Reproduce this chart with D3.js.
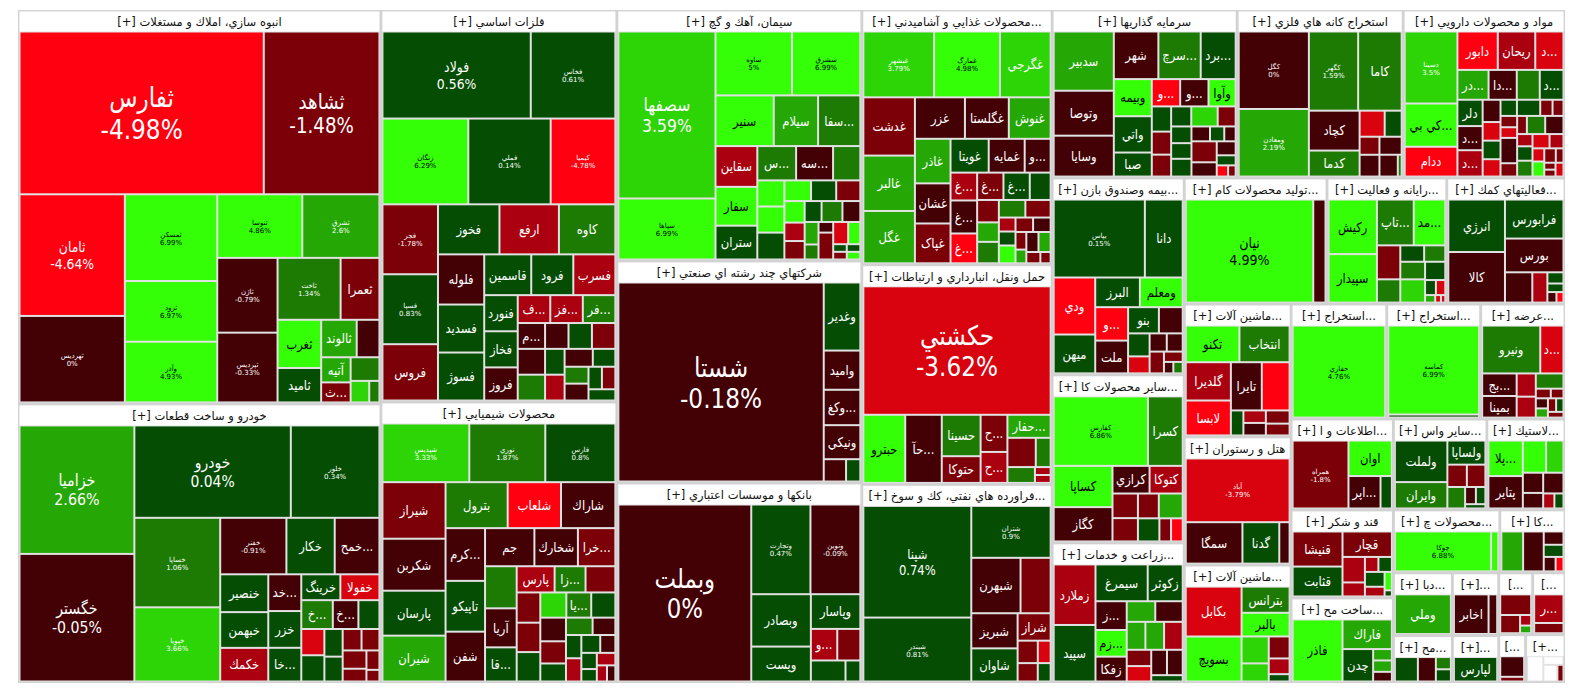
<!DOCTYPE html>
<html><head><meta charset="utf-8">
<script src="https://cdn.jsdelivr.net/npm/d3@7"></script>
<style>
html,body{margin:0;padding:0;background:#fff;}
svg text{font-family:"DejaVu Sans",sans-serif;}
</style></head><body>
<svg id="chart" width="1584" height="698"></svg>
<script>
// ---------- DATA (symbol, % change, weight) ----------
const sAnbooh = [["ثفارس",-4.98,397],["ثشاهد",-1.48,188],["ثامان",-4.64,128],["ثهرديس",0,91],["ثمسكن",6.99,80],["ثرود",6.97,56],["وآذر",4.93,56],["ثنوسا",4.86,54],["ثشرق",2.60,49],["ثاژن",-0.79,45],["ثپرديس",-0.33,42],["ثاخت",1.34,39],["ثعمرا",-1.52,24],["ثغرب",4.6,21],["ثاميد",0.45,15],["ثالوند",2.4,13.3],["ثملت",-0.6,8.5],["آتيه",2.4,7.4],["ثقزوي",-1.5,5.9],["ثتران",1.5,6.8],["ثجنوب",3.5,4],["ثنظام",1.5,2.2]];
const sKhodro = [["خزاميا",2.66,146],["خگستر",-0.05,145],["خودرو",0.04,143],["خلور",0.34,81],["خساپا",1.06,76],["خپويا",3.66,63],["خفنر",-0.91,37],["خكار",0.6,27],["خمحركه",-0.4,25],["خنصير",0.5,18],["خبهمن",0.3,17],["خكمك",-2.5,16],["خديزل",-0.5,12],["خزر",0.3,12],["خاذين",0.4,11],["خرينگ",0.5,10],["خفولا",-3.5,10],["خشرق",1.5,9],["خمهر",-0.5,7.3],["ناما",0.5,6],["خاور",-3.5,6],["خوساز",0.5,6],["",0.5,5],["",0.5,4.5],["",-1.5,4],["",-1.5,3.8],["",-1.5,4.3],["",-1.5,3],["",-1.5,2.5],["",-1.5,1.5]];
const sFelezat = [["فولاد",0.56,128],["فخاس",0.61,73],["زنگان",6.29,73],["فملي",0.14,70],["كيميا",-4.78,55],["فجر",-1.78,38.5],["فسپا",0.83,38.5],["فروس",-1.5,31],["فخوز",0.5,30.5],["ارفع",-2.5,29.5],["كاوه",1.5,28],["فلوله",-0.5,23],["فسديد",0.5,22],["فسوژ",0.5,22],["قاسمين",0.5,19],["فرود",0.5,17],["فسرب",-2.5,17],["فنورد",0.5,12],["فخاز",0.5,12],["فروز",-0.5,11],["فگستر",-2.5,9],["فزرين",-2.5,9],["فرآور",1.5,9],["مرقام",-0.5,7],["كنرژي",-0.5,7],["",1.5,7],["",-0.5,6],["",0.5,6],["",-1.5,6],["",0.5,5],["",-2.5,5],["",-0.5,5],["",0.5,4],["",1.5,4],["",-0.5,4],["",0.5,3],["",-1.5,3],["",0.5,3]];
const sShimi = [["شپديس",3.33,52.8],["نوري",1.87,46.2],["فارس",0.80,42.6],["شيراز",-1.5,37],["شكربن",-0.5,34],["پارسان",0.5,29.4],["شيران",2.5,30],["بترول",1.5,29.6],["شلعاب",-4.5,25.4],["شاراك",-0.5,25.9],["كرماشا",-0.5,21.6],["تاپيكو",0.5,20.8],["شفن",-0.5,20.4],["جم",-0.5,19.5],["شخارك",-0.5,17.2],["خراسان",-1.5,14.8],["شصدف",1.5,13.8],["آريا",-0.5,12.8],["قاران",0.5,11.2],["پارس",-2.5,10.3],["زاگرس",1.5,8.4],["",-1.5,8.1],["",-1.5,7.4],["",-1.5,7.2],["",0.5,7.2],["",3.5,6.8],["ياسا",1.5,6.5],["",0.5,6.3],["",-0.5,6.3],["",-1.5,5.9],["",0.5,4.8],["",1.5,4.8],["",-0.5,4.1],["",0.5,3.7],["",-2.5,3.7],["",0.5,3.5],["",-0.5,2.8],["",0.5,2.6],["",0.5,2],["",-2.5,2.4],["",-2.5,1.7],["",-0.5,1.4]];
const sSiman = [["سصفها",3.59,156],["سپاها",6.99,57],["ساوه",5,47],["سشرق",6.99,42],["سنير",5,28.4],["سيلام",2.5,21.6],["سفارس",1.5,20.6],["سقاين",-2.5,16.4],["سفار",5,15.6],["ستران",0.5,13.6],["سشمال",1.5,12.8],["سهرمز",-0.5,12.2],["سغرب",1.5,9],["",5,6.8],["",5,6.8],["سارود",0.5,7],["",5,5.3],["",0.5,5],["",-1.5,4.8],["",5,4.2],["",-2.5,3.6],["",-1.5,3.6],["",0.5,3.4],["",1.5,4.2],["",-0.5,3.6],["",2.5,3],["",1.5,2],["",-0.5,1.5],["",-1.5,3.8],["",-3.5,3.2],["",5,2.6],["",0.5,1],["",-1.5,1],["",0.5,1],["",5,1]];
const sChandReshte = [["شستا",-0.18,410],["وغدير",0.5,25],["واميد",-0.5,14.4],["وكغدير",-0.5,13],["ونيكي",-0.5,12.5],["",-0.5,5],["",0.5,3.2]];
const sBank = [["وبملت",0,226],["وتجارت",0.47,51],["ونوين",-0.09,43],["وبصادر",0.5,30],["وپست",0.5,20],["وپاسار",0.5,16.5],["وسينا",-2.5,8],["وكار",-1.5,7],["",0.5,7],["",0.5,3]];
const sGhazaei = [["غبشهر",3.79,44],["غمارگ",4.98,41],["غگرجي",3.5,31.5],["غدشت",-1.5,28.4],["غالبر",2.5,27],["غگل",2.5,25.5],["غزر",-0.5,19.6],["غگلستا",-0.5,17.2],["غنوش",2.5,16.4],["غاذر",2.5,15],["غشان",-0.5,13.5],["غپاک",-1.5,13.4],["غويتا",0.5,12.2],["غمايه",-0.5,11.5],["وبشهر",-0.5,8.3],["غشصفا",-2.5,7],["غبهنوش",-0.5,8.3],["غپينو",-4.5,7.5],["غكورش",-1.5,6.8],["غفارس",0.5,6.8],["",0.5,5.4],["",-1.5,4.6],["",2.5,4],["",1.5,4.4],["",1.5,4.4],["",-1.5,4.2],["",-2.5,2.2],["",0.5,2.2],["",5,2.8],["",-1.5,2.4],["",-0.5,2.4],["",-1.5,1.8],["",2.5,1.4],["",-0.5,2.3],["",2.5,2.3],["",-1.5,1.5],["",-1.5,1.1]];
const sHaml = [["حكشتي",-3.62,232],["حبترو",5,27.5],["حآفرين",-0.5,24],["حسينا",1.5,15.5],["حتوكا",-1.5,10],["حپارسا",-1.5,9.6],["حريل",-2.5,8],["حفارس",2.5,9.6],["",-1.5,8],["",1.5,4.2],["",1.5,4.2],["",-2.5,1.2],["",-2.5,1.2]];
const sNafti = [["شپنا",0.74,117],["شبندر",0.81,67],["شتران",0.9,40],["شبهرن",-0.5,26.5],["",-1.5,16.2],["شبريز",-0.5,15.8],["شاوان",0.5,14.9],["شراز",-1.5,8.8],["",-1.5,4.4],["",-3.5,2.8],["",-1.5,3.6],["",0.5,2.3]];
const sSarmaye = [["سدبير",2.5,33.6],["وتوصا",-0.5,25.5],["وسايا",-0.5,23.2],["شهر",-0.5,20],["سرچشمه",1.5,19],["بردسير",0.5,15.7],["وبيمه",5,13.3],["واتي",0.5,13],["صبا",0.5,8.6],["وصنعت",-4.5,7.3],["وسپه",-0.5,7.3],["وآوا",5,7],["",0.5,4.6],["",-1.5,4.2],["",-1.5,4],["",0.5,3.8],["",3.5,5],["",-1.5,3.4],["",0.5,3.2],["",0.5,3],["",0.5,3.4],["",-0.5,2.6],["",0.5,2],["",-0.5,1.6],["",-1.5,5],["",-0.5,3.4],["",-0.5,2.5],["",0.5,1.8],["",-4.5,1.2],["",-1.5,0.8]];
const sKaneh = [["كگل",0,51.6],["ومعادن",2.19,45],["كگهر",1.59,37],["كاما",1.5,32.7],["كچاد",-0.5,19.2],["كدما",1.5,12.5],["",-3.5,6.2],["",0.5,4.2],["",-1.5,3.4],["",-0.5,4.1],["",-0.5,3.8],["",-0.5,3.8],["",1.5,0.8]];
const sDarou = [["دسينا",3.5,34.3],["كي بي سي",5,20.6],["ددام",-4.5,14.2],["دابور",-4.5,14],["ريحان",-2.5,13],["دفارا",-3.5,9.8],["درازك",2.5,8.4],["داسوه",-0.5,7.6],["دتماد",1.5,6.2],["دكوثر",0.5,6.4],["دلر",0.5,6],["دشيمي",-0.5,5.5],["دزهراوي",-2.5,6],["",-0.5,3.6],["",-3.5,3],["",0.5,3],["",-3.5,2.8],["",0.5,2.4],["",0.5,3.4],["",-1.5,1.8],["",-1.5,1.6],["",-1.5,1.7],["",-3.5,1.6],["",-0.5,3.8],["",-1.5,2],["",-1.5,1.6],["",1.5,3],["",-0.5,3],["",-2.5,1.7],["",0.5,2],["",1.5,2.2],["",-3.5,2.2],["",-2.5,1.8],["",-3.5,1.4],["",5,1.6],["",-1.5,1.5],["",-1.5,1],["",-1.5,0.7],["",-1.5,0.7],["",-3.5,1]];
const sBimeh = [["بپاس",0.15,66],["دانا",0.5,27.4],["ودي",-4.5,22],["ميهن",0.5,15],["البرز",0.5,12.3],["ومعلم",5,11.8],["وكوثر",-4.5,10.2],["ملت",-0.5,10],["بنو",0.5,7.5],["",-0.5,5.8],["",0.5,4.6],["",-3.5,3.4],["",-0.5,2.9],["",-0.5,2.7],["",-1.5,2.9],["",-1.5,1.8],["",-0.5,1],["",1.5,1]];
const sKani = [["كفارس",6.86,60.7],["كسرا",1.5,22.4],["كساپا",5,22.5],["كگاز",-0.5,18.7],["كرازي",-0.5,9.5],["كتوكا",-2.5,8.5],["",-1.5,5.8],["",-1.5,5.5],["",-1.5,4.8],["",2.5,5.5],["",0.5,4.6],["",-1.5,2.5],["",-4.5,2.5]];
const sZeraat = [["زملارد",-2.5,22.8],["سپيد",0.5,21.3],["سيمرغ",0.5,17.3],["زكوثر",0.5,11.6],["زشريف",-0.5,8.1],["زماهان",5,7.5],["زفكا",-0.5,7],["",2.5,5.3],["",-0.5,5.1],["",2.5,4.7],["",2.5,4.7],["",-2.5,4.7],["",-1.5,3.6],["",-3.5,3.4],["",-0.5,3.6],["",-0.5,3.6],["",0.5,1.8]];
const sComputer = [["نيان",4.99,130],["",-0.5,12.5]];
const sRayaneh = [["ركيش",5,24.3],["سپيدار",5,21.6],["تاپكيش",1.5,15.5],["مداران",5,13.3],["",-1.5,7.3],["",1.5,5],["",0.5,3.6],["",1.5,3.2],["",1.5,4],["",3.5,5.3],["",0.5,3.4],["",0.5,1.5],["",-3.5,1.3],["",2.5,0.7],["",-3.5,0.4],["",-3.5,0.3]];
const sKomaki = [["انرژي",0.5,28],["كالا",-0.5,27],["فرابورس",0.5,21.5],["بورس",-0.5,18.6],["",-0.5,7.8],["",-2.5,4.3],["",0.5,1.7],["",0.5,1.3],["",-0.5,0.9],["",-4.5,0.7]];
const sMashin = [["تكنو",5,18.2],["انتخاب",1.5,17],["گلديرا",-2.5,16],["لابسا",-4.5,14.6],["تايرا",-0.5,13.8],["",-4.5,12.4],["",0.5,2.9],["",-2.5,2.6],["",-0.5,2.6],["",-1.5,2.9],["",-1.5,2.6]];
const sHotel = [["آباد",-3.79,62],["سمگا",-0.5,22],["گدنا",0.5,14.3],["",-0.5,4]];
const sBarghi = [["بكابل",-3.5,25.5],["بسويچ",5,23],["بترانس",1.5,11.5],["بالبر",5,10.4],["",3.5,6.7],["",3.5,4.5],["",-1.5,4.2],["",-2.5,3],["",0.5,1.4]];
const sNaft = [["حفاري",4.76,84]];
const sMaaden = [["كماسه",6.99,78],["",0.5,2.7]];
const sBargh = [["ونيرو",1.5,25],["دماوند",-3.5,10],["بجهرم",-0.5,7],["بمپنا",-0.5,6.7],["",-2.5,4],["",-2.5,3.6],["",1.5,3.8],["",-1.5,1.3],["",-1.5,1.1],["",-0.5,1.1],["",2.5,1],["",-1.5,1],["",0.5,0.9],["",-1.5,0.8]];
const sEttelaat = [["همراه",-1.8,35],["اوان",5,14.2],["اپرداز",-0.5,9.6],["",0.5,3.4]];
const sGhand = [["قنيشا",-1.5,15.6],["قثابت",0.5,13.3],["قچار",-1.5,11.2],["",-2.5,5.1],["",-2.5,2.8],["",-2.5,1.8],["",0.5,1.8],["",0.5,2.6],["",-2.5,1.7],["",5,1.2],["",0.5,0.4]];
const sFelezi = [["فاذر",4.98,29],["فاراك",2.5,13.7],["چدن",0.5,9.3],["",2.5,2],["",2.5,2],["",-0.5,1.7]];
const sVaseteh = [["ولملت",0.5,20],["وايران",1.5,12.7],["ولساپا",0.5,8.4],["",-1.5,4],["",-1.5,3.8],["",1.5,3.5],["",-0.5,1.7],["",0.5,1.5],["",0.5,0.8]];
const sLastik = [["پلاسك",5,11.6],["پتاير",-0.5,10.6],["",5,7.1],["",3.5,5.3],["",-0.5,3.9],["",-0.5,3],["",-0.5,4],["",-2.5,1.6],["",0.5,1.3]];
const sChoobi = [["چوكا",6.88,35.7],["",5,2.7]];
const sKashi = [["",2.5,7.6],["",-0.5,7.2],["",-0.5,2.3],["",0.5,2.1],["",-0.5,1.5],["",-4.5,1]];
const sDabbaghi = [["وملي",2.5,21]];
const sKaghazi = [["",0.5,5.5],["",-0.5,4.3],["",1.5,1.8],["",0.5,1.8]];
const sMokhaberat = [["اخابر",-0.5,12.8],["",-0.5,3.2]];
const sKhanegi = [["لپارس",0.5,10.5]];
const sNassaji = [["",-1.5,6],["",-1.5,3.4],["",-2.5,1.1],["",2.5,0.8]];
const sFanni = [["رمپنا",-2.5,8.1],["",-1.5,2.9]];
const sAbi = [["حسير",-0.5,4.4],["",-1.5,1]];
const sChap = [["",null,4],["",null,1.7],["",null,2.3],["",-1.5,1]];

const sectorNames = ["انبوه سازي، املاك و مستغلات","خودرو و ساخت قطعات","فلزات اساسي","محصولات شيميايي","سيمان، آهك و گچ","شركتهاي چند رشته اي صنعتي","بانكها و موسسات اعتباري","محصولات غذايي و آشاميدني به جز قند و شكر","حمل ونقل، انبارداري و ارتباطات","فراورده هاي نفتي، كك و سوخت هسته اي","سرمايه گذاريها","استخراج كانه هاي فلزي","مواد و محصولات دارويي","بيمه وصندوق بازنشستگي به جز تامين اجتماعي","ساير محصولات كاني غيرفلزي","زراعت و خدمات وابسته","توليد محصولات كامپيوتري الكترونيكي و نوري","رايانه و فعاليت‌هاي وابسته به آن","فعاليتهاي كمكي به نهادهاي مالي واسط","ماشين آلات و تجهيزات","هتل و رستوران","ماشين آلات و دستگاههاي برقي","استخراج نفت گاز و خدمات جنبي جز اكتشاف","استخراج ساير معادن","عرضه برق، گاز، بخاروآب گرم","اطلاعات و ارتباطات","قند و شكر","ساخت محصولات فلزي","ساير واسطه گريهاي مالي","لاستيك و پلاستيك","محصولات چوبي","كاشي و سراميك","دباغي، پرداخت چرم و ساخت انواع پاپوش","محصولات كاغذي","مخابرات","لوازم خانگي","منسوجات","فني و مهندسي","حمل و نقل آبي","انتشار، چاپ و تكثير"];
const sectorValues = [1430,1013,925,663,615,544,490,485,418,378,311,279,272,260,222,185,180,151,149,142,137,126,110,108,97,93,90,87,85,71,67,41,37,28,29,22,21,20,13,19];
const sectorStocks = [sAnbooh,sKhodro,sFelezat,sShimi,sSiman,sChandReshte,sBank,sGhazaei,sHaml,sNafti,sSarmaye,sKaneh,sDarou,sBimeh,sKani,sZeraat,sComputer,sRayaneh,sKomaki,sMashin,sHotel,sBarghi,sNaft,sMaaden,sBargh,sEttelaat,sGhand,sFelezi,sVaseteh,sLastik,sChoobi,sKashi,sDabbaghi,sKaghazi,sMokhaberat,sKhanegi,sNassaji,sFanni,sAbi,sChap];

// ---------- RENDER ----------
const X0 = 18, Y0 = 10, W = 1547, H = 673, HEADER = 21, SX = 0.86;
const color = d3.scaleThreshold()
  .domain([-4, -3, -2, -1, 1e-9, 1, 2, 3, 4])
  .range(["#ff0011","#d9030f","#ab0010","#7b0008","#430005","#044d03","#1d7b04","#25a806","#2dd406","#35ff06"]);
const fmt = v => (+v.toFixed(2)) + "%";

const svg = d3.select("#chart");
svg.append("rect").attr("x", X0).attr("y", Y0).attr("width", W).attr("height", H).attr("fill", "#d2d2d2");

const root = d3.hierarchy({children: sectorNames.map((n, i) => ({name: n, value: sectorValues[i], idx: i}))})
  .sum(d => d.value || 0);
d3.treemap().tile(d3.treemapSquarify.ratio(1)).size([W, H]).paddingOuter(1.5).paddingInner(3)(root);

function label(g, x, y, str, fs, fill) {
  return g.append("text")
    .attr("transform", `translate(${x},${y}) scale(${SX},1)`)
    .attr("text-anchor", "middle").attr("font-size", fs).attr("fill", fill).text(str);
}
const len = t => t.node().getComputedTextLength() * SX;

root.leaves().forEach(sec => {
  const i = sec.data.idx;
  const sx = X0 + sec.x0, sy = Y0 + sec.y0, sw = sec.x1 - sec.x0, sh = sec.y1 - sec.y0;
  const g = svg.append("g");
  g.append("rect").attr("x", sx).attr("y", sy).attr("width", sw).attr("height", sh).attr("fill", "#e2e2e2");
  g.append("rect").attr("x", sx).attr("y", sy).attr("width", sw).attr("height", HEADER - 1).attr("fill", "#fff");
  // header
  const full = "[+] " + sectorNames[i];
  const ht = g.append("text").attr("x", sx + sw / 2).attr("y", sy + 10.5)
    .attr("text-anchor", "middle").attr("dominant-baseline", "central")
    .attr("font-size", 11.5).attr("fill", "#111").text(full);
  if (ht.node().getComputedTextLength() > sw - 8) {
    for (let k = full.length - 1; k > 0; k--) {
      ht.text(full.slice(0, k).trimEnd() + "...");
      if (ht.node().getComputedTextLength() <= sw - 8) break;
    }
  }
  // tiles
  const cx0 = sx, cy0 = sy + HEADER - 1, cw = sw, ch = sh - HEADER + 1;
  const sub = d3.hierarchy({children: sectorStocks[i].map(s => ({name: s[0], pct: s[1], value: s[2]}))})
    .sum(d => d.value || 0);
  d3.treemap().tile(d3.treemapSquarify.ratio(1)).size([cw, ch]).paddingOuter(1).paddingInner(2)(sub);
  sub.leaves().forEach(n => {
    const x = cx0 + n.x0, y = cy0 + n.y0, w = n.x1 - n.x0, h = n.y1 - n.y0;
    const d = n.data;
    const fill = d.pct == null ? "#ffffff" : color(d.pct);
    g.append("rect").attr("x", x).attr("y", y).attr("width", Math.max(0, w)).attr("height", Math.max(0, h)).attr("fill", fill);
    if (!d.name || d.pct == null) return;
    const tc = d.pct >= 4 ? "#000" : "#fff";
    const a = w * h, mx = x + w / 2, my = y + h / 2;
    if (a >= 8800) {
      let fs = Math.max(11, Math.min(27, a / 860));
      let t1, t2;
      for (; fs > 8; fs -= 0.5) {
        if (t1) { t1.remove(); t2.remove(); }
        t1 = label(g, mx, my - fs * 0.2, d.name, fs, tc);
        t2 = label(g, mx, my + fs * 0.95, fmt(d.pct), fs, tc);
        if (Math.max(len(t1), len(t2)) <= w - 8 && fs * 2.3 <= h) break;
      }
    } else if (a >= 3400) {
      g.append("text").attr("x", mx).attr("y", my - 1).attr("text-anchor", "middle").attr("font-size", 7).attr("fill", tc).text(d.name);
      g.append("text").attr("x", mx).attr("y", my + 7).attr("text-anchor", "middle").attr("font-size", 7).attr("fill", tc).text(fmt(d.pct));
    } else {
      if (w < 20 || h < 16) return;
      const t = label(g, mx, my + 4.8, d.name, 13.5, tc);
      if (len(t) > w - 5) {
        let ok = false;
        for (let k = d.name.length - 1; k > 0; k--) {
          t.text(d.name.slice(0, k) + "...");
          if (len(t) <= w - 5) { ok = true; break; }
        }
        if (!ok) t.remove();
      }
    }
  });
});
</script>
</body></html>
